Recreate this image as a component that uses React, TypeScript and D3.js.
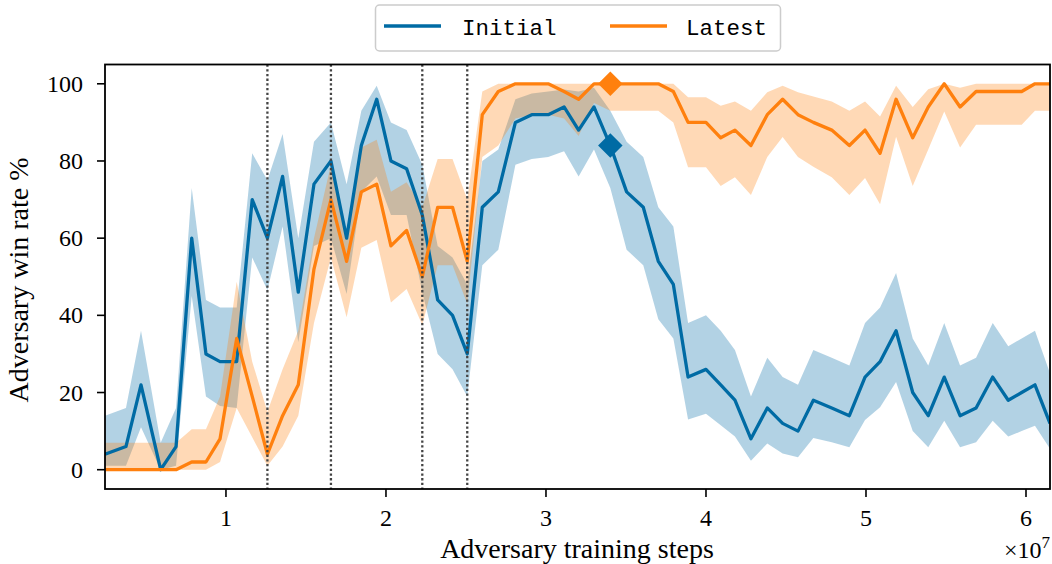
import React from 'react';
import * as d3 from 'd3';

// Checkpoint positions, in millions of adversary training steps
const STEPS_M = [
  2.44, 3.75, 4.69, 5.92, 6.88, 7.86, 8.75, 9.63, 10.67, 11.64,
  12.59, 13.54, 14.52, 15.5, 16.56, 17.54, 18.46, 19.42, 20.31, 21.29,
  22.27, 23.23, 24.16, 25.08, 26.02, 27.02, 28.09, 29.11, 30.14, 31.13,
  32.04, 33.0, 34.02, 35.04, 36.08, 37.02, 37.96, 38.88, 40.0, 40.92,
  41.81, 42.81, 43.83, 44.79, 45.75, 46.71, 47.86, 48.96, 49.94, 50.88,
  51.88, 52.92, 53.89, 54.89, 55.88, 56.88, 57.92, 58.89, 59.73, 60.56,
  61.5,
];

// Win rate (%) against the initial victim: mean and band
const INITIAL = [
  4, 6, 22, 0, 6, 60, 30, 28, 28, 70,
  60, 76, 46, 74, 80, 60, 84, 96, 80, 78,
  66, 44, 40, 30, 68, 72, 90, 92, 92, 94,
  88, 94, 84, 72, 68, 54, 48, 24, 26, 22,
  18, 8, 16, 12, 10, 18, 16, 14, 24, 28,
  36, 20, 14, 24, 14, 16, 24, 18, 20, 22,
  12,
];
const INITIAL_HI = [
  14, 16, 36, 7, 16, 73, 44, 42, 42, 82,
  75, 87, 60, 85, 90, 74, 93, 99.5, 90, 88,
  79, 58, 55, 48, 80, 83, 96, 97.5, 98, 98.5,
  98, 99, 93, 85, 81, 68, 63, 38, 40, 36,
  31, 19, 29, 24, 22, 31, 29, 27, 38, 42,
  51, 34, 27, 38, 27, 29, 38, 32, 34, 36,
  25,
];
const INITIAL_LO = [
  1, 1, 11, 0, 1, 45, 19, 16.5, 16, 55,
  46.5, 63, 33, 58, 60, 45.5, 72, 76, 66, 66,
  46, 30, 26, 19, 53, 57, 79, 80.5, 81, 82.5,
  76, 83, 73, 57, 53, 39, 34, 13, 14.5, 11.5,
  8.6, 2.3, 6.8, 4.2, 3.2, 8.2, 7.1, 5.8, 12.9, 16.2,
  22.7, 10, 5.8, 12.7, 5.8, 7.1, 12.7, 8.6, 10, 11.4,
  5.4,
];

// Win rate (%) against the latest victim: mean and band
const LATEST = [
  0, 0, 0, 0, 0, 2, 2, 8, 34, 19,
  4, 14, 22, 52, 70, 54, 72, 74, 58, 62,
  50, 68, 68, 54, 92, 98, 100, 100, 100, 98,
  96, 100, 100, 100, 100, 100, 98, 90, 90, 86,
  88, 84, 92, 96, 92, 90, 88, 84, 88, 82,
  96, 86, 94, 100, 94, 98, 98, 98, 98, 100,
  100,
];
const LATEST_HI = [
  7, 7, 7, 7, 7, 10.5, 10.5, 19, 48.7, 28,
  15, 26, 36, 60, 79, 60, 83.5, 85.5, 72, 74.5,
  68, 80.5, 80.5, 70, 98, 100, 100, 100, 100, 100,
  100, 100, 100, 100, 100, 100, 100, 96.5, 96.5, 94.3,
  95.4, 93, 97.8, 99.5, 97.8, 96.7, 95.4, 93, 95.4, 91.5,
  99.5, 94, 98.6, 100, 99, 100, 100, 100, 100, 100,
  100,
];
const LATEST_LO = [
  0, 0, 0, 0, 0, 0, 0, 2, 16, 8.4,
  1, 6, 14, 38, 55, 39.5, 57.5, 59.5, 43.3, 46.8,
  37.5, 53, 53, 43, 81, 84, 91, 92, 92, 91,
  86.5, 95, 93, 93, 93, 93, 90, 78.4, 78.4, 73.5,
  75.8, 71.2, 81, 86.2, 81, 78.5, 75.8, 71.2, 75.6, 68.8,
  86.3, 73.5, 83, 92.8, 83.5, 89.4, 89.4, 89.4, 89.4, 93,
  93,
];

// Victim switch points (millions of steps) and the highlighted checkpoint
const PHASE_STEPS_M = [12.59, 16.56, 22.27, 25.08];
const MARKER_INDEX = 32;

const X_TICKS = [1, 2, 3, 4, 5, 6]; // ×1e7
const Y_TICKS = [0, 20, 40, 60, 80, 100];

const BLUE = '#006BA4';
const ORANGE = '#FF800E';

const W = 1052;
const H = 564;
const PLOT = { left: 105, right: 1050, top: 64.5, bottom: 489 };
const SERIF = '"Liberation Serif", "Times New Roman", serif';
const MONO = '"Liberation Mono", "DejaVu Sans Mono", monospace';

export default function App() {
  const steps = STEPS_M.map((s) => s * 1e6);
  const x = d3
    .scaleLinear()
    .domain([steps[0], steps[steps.length - 1]])
    .range([PLOT.left, PLOT.right]);
  const y = d3.scaleLinear().domain([-5, 105]).range([PLOT.bottom, PLOT.top]);

  const band = (lo: number[], hi: number[]) =>
    d3
      .area<number>()
      .x((_, i) => x(steps[i]))
      .y0((_, i) => y(lo[i]))
      .y1((_, i) => y(hi[i]))(steps) as string;
  const line = (v: number[]) =>
    d3
      .line<number>()
      .x((_, i) => x(steps[i]))
      .y((_, i) => y(v[i]))(steps) as string;

  const diamond = d3.symbol().type(d3.symbolSquare).size(300)() as string;
  const mx = x(steps[MARKER_INDEX]);

  return (
    <svg
      width={W}
      height={H}
      viewBox={`0 0 ${W} ${H}`}
      style={{ position: 'absolute', left: 0, top: 0, background: '#fff' }}
    >
      <defs>
        <clipPath id="plot-clip">
          <rect
            x={PLOT.left}
            y={PLOT.top}
            width={PLOT.right - PLOT.left}
            height={PLOT.bottom - PLOT.top}
          />
        </clipPath>
      </defs>
      <rect width={W} height={H} fill="#fff" />

      <g clipPath="url(#plot-clip)">
        <path d={band(INITIAL_LO, INITIAL_HI)} fill={BLUE} fillOpacity={0.3} />
        <path d={band(LATEST_LO, LATEST_HI)} fill={ORANGE} fillOpacity={0.3} />
        <path d={line(INITIAL)} fill="none" stroke={BLUE} strokeWidth={3.3} strokeLinejoin="round" />
        <path d={line(LATEST)} fill="none" stroke={ORANGE} strokeWidth={3.3} strokeLinejoin="round" />
        {PHASE_STEPS_M.map((s) => (
          <line
            key={s}
            x1={x(s * 1e6)}
            x2={x(s * 1e6)}
            y1={PLOT.top}
            y2={PLOT.bottom}
            stroke="#444"
            strokeWidth={2.3}
            strokeDasharray="2.3 2.4"
          />
        ))}
      </g>

      <path d={diamond} transform={`translate(${mx},${y(LATEST[MARKER_INDEX])}) rotate(45)`} fill={ORANGE} />
      <path d={diamond} transform={`translate(${mx},${y(INITIAL[MARKER_INDEX])}) rotate(45)`} fill={BLUE} />

      {/* axes frame */}
      <rect
        x={PLOT.left}
        y={PLOT.top}
        width={PLOT.right - PLOT.left}
        height={PLOT.bottom - PLOT.top}
        fill="none"
        stroke="#000"
        strokeWidth={1.8}
      />

      {X_TICKS.map((t) => (
        <g key={t} transform={`translate(${x(t * 1e7)},0)`}>
          <line y1={PLOT.bottom} y2={PLOT.bottom + 8} stroke="#000" strokeWidth={1.6} />
          <text y={526} textAnchor="middle" fontFamily={SERIF} fontSize={24} fill="#000">
            {t}
          </text>
        </g>
      ))}
      {Y_TICKS.map((t) => (
        <g key={t} transform={`translate(0,${y(t)})`}>
          <line x1={PLOT.left - 8} x2={PLOT.left} stroke="#000" strokeWidth={1.6} />
          <text x={83} y={8} textAnchor="end" fontFamily={SERIF} fontSize={24} fill="#000">
            {t}
          </text>
        </g>
      ))}

      <text x={577} y={558} textAnchor="middle" fontFamily={SERIF} fontSize={28} fill="#000">
        Adversary training steps
      </text>
      <text x={1050} y={558} textAnchor="end" fontFamily={SERIF} fontSize={24} fill="#000">
        ×10
        <tspan dy={-10} fontSize={17}>
          7
        </tspan>
      </text>
      <text
        transform="translate(28,280) rotate(-90)"
        textAnchor="middle"
        fontFamily={SERIF}
        fontSize={28}
        fill="#000"
      >
        Adversary win rate %
      </text>

      {/* legend */}
      <g>
        <rect x={375.5} y={5} width={405} height={46} rx={4} fill="#fff" fillOpacity={0.8} stroke="#ccc" strokeWidth={1.5} />
        <line x1={384} x2={441} y1={26} y2={26} stroke={BLUE} strokeWidth={3.3} />
        <text x={462} y={35} fontFamily={MONO} fontSize={22.5} fill="#000">
          Initial
        </text>
        <line x1={610} x2={667} y1={26} y2={26} stroke={ORANGE} strokeWidth={3.3} />
        <text x={686} y={35} fontFamily={MONO} fontSize={22.5} fill="#000">
          Latest
        </text>
      </g>
    </svg>
  );
}
